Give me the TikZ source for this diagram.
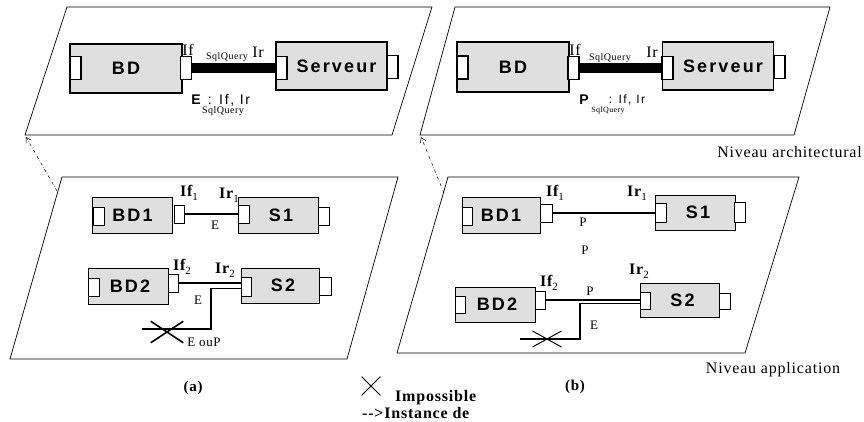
\documentclass[tikz,border=0pt]{standalone}
\usepackage{fontspec}
\setmainfont{Liberation Serif}[LetterSpace=5]
\newfontfamily\boxfont{Liberation Sans}[LetterSpace=12]
\usetikzlibrary{arrows.meta,shapes.misc}
\newcommand{\sublab}[2]{{\bfseries #1}\raisebox{-4pt}{\fontsize{11}{12}\selectfont #2}}
\tikzset{
  plane/.style={draw,line width=0.7pt},
  bigbox/.style={draw,line width=1.6pt,fill=gray!25,minimum width=112,minimum height=49,inner sep=0pt,font=\boxfont\bfseries\fontsize{18}{20}\selectfont},
  bigport/.style={draw,line width=1.4pt,fill=white,minimum width=11,minimum height=23,inner sep=0pt},
  smallbox/.style={draw,line width=0.9pt,fill=gray!25,minimum width=80,minimum height=36,inner sep=0pt,font=\boxfont\bfseries\fontsize{18}{20}\selectfont},
  smallport/.style={draw,line width=0.9pt,fill=white,minimum width=11,minimum height=18,inner sep=0pt},
  lab/.style={inner sep=0pt,font=\fontsize{16}{18}\selectfont},
  tiny/.style={inner sep=0pt,font=\fontsize{10}{12}\selectfont},
  small/.style={inner sep=0pt,font=\fontsize{13}{15}\selectfont},
  sanslab/.style={inner sep=0pt,font=\boxfont\fontsize{14}{16}\selectfont},
  impossible/.style={draw,cross out,inner sep=0pt},
  inst/.style={->,dashdotted,line width=0.5pt},
  wire/.style={line width=1.2pt}
}

\begin{document}
\begin{tikzpicture}[x=1pt,y=-1pt,>={Straight Barb[length=5pt,width=6pt]}]
  \useasboundingbox (0,0) rectangle (864,421);

  \draw[plane] (67,7) -- (432,7) -- (392,135) -- (25,135) -- cycle;
  \draw[plane] (455,7) -- (830,7) -- (794,135) -- (420,135) -- cycle;
  \draw[plane] (62,177) -- (398,177) -- (347,359) -- (10,359) -- cycle;
  \draw[plane] (448,177) -- (799,177) -- (745,353) -- (397,353) -- cycle;

  \coordinate (archA) at (26,137);
  \coordinate (archB) at (421,137);
  \coordinate (appA) at (57,191);
  \coordinate (appB) at (444,193);
  \draw[inst] (appA) -- (archA);
  \draw[inst] (appB) -- (archB);

  \node[bigbox] (BDa) at (126,68.5) {BD};
  \node[bigport] (BDa-lp) at (75.5,68) {};
  \node[bigport] (BDa-rp) at (186,68) {};
  \node[bigbox,minimum width=111,minimum height=48] (Sa) at (331.5,66) {\hspace*{10pt}Serveur};
  \node[bigport] (Sa-lp) at (281.5,68) {};
  \node[bigport] (Sa-rp) at (392.5,67) {};
  \draw[line width=10pt] (BDa-rp.east) -- (Sa-lp.west);
  \node[lab] (Ifa) at (188,50) {If};
  \node[tiny] (Qa) at (227,57) {SqlQuery};
  \node[lab] (Ira) at (258,52) {Ir};
  \node[sanslab,font=\boxfont\bfseries\fontsize{14}{16}\selectfont] (Ea) at (196,100) {E};
  \node[tiny] (Qa2) at (223,111) {SqlQuery};
  \node[sanslab] (IFa) at (229,100) {: If, Ir};

  \node[bigbox,minimum height=50] (BDb) at (513,67) {BD};
  \node[bigport] (BDb-lp) at (462.5,67.5) {};
  \node[bigport] (BDb-rp) at (573.5,68) {};
  \node[bigbox,minimum width=111,minimum height=48] (Sb) at (718,66) {\hspace*{10pt}Serveur};
  \node[bigport] (Sb-lp) at (667.5,68) {};
  \node[bigport] (Sb-rp) at (779.5,67) {};
  \draw[line width=10pt] (BDb-rp.east) -- (Sb-lp.west);
  \node[lab] (Ifb) at (575,50) {If};
  \node[tiny] (Qb) at (610,58) {SqlQuery};
  \node[lab] (Irb) at (652,52) {Ir};
  \node[sanslab,font=\boxfont\bfseries\fontsize{14}{16}\selectfont] (Pb) at (584,100) {P};
  \node[tiny,font=\fontsize{8}{10}\selectfont] (Qb2) at (608,111) {SqlQuery};
  \node[sanslab,font=\boxfont\fontsize{12}{14}\selectfont] (IFb) at (627,100) {: If, Ir};
  \node[lab,anchor=east] (archlab) at (862,152) {Niveau architectural};

  \node[smallbox] (BD1a) at (132.5,215) {BD1};
  \node[smallport] (BD1a-lp) at (99,216) {};
  \node[smallport,minimum width=10] (BD1a-rp) at (179,214) {};
  \node[smallbox] (S1a) at (278,215) {\hspace*{6pt}S1};
  \node[smallport] (S1a-lp) at (243.5,214) {};
  \node[smallport] (S1a-rp) at (323.5,216) {};
  \draw[wire] (BD1a-rp.east) -- (S1a-lp.west);
  \node[lab] (If1a) at (189,193) {\sublab{If}{1}};
  \node[lab] (Ir1a) at (229,195) {\sublab{Ir}{1}};
  \node[small] (E1a) at (215,225) {E};

  \node[smallbox] (BD2a) at (128,286) {\hspace*{4pt}BD2};
  \node[smallport] (BD2a-lp) at (94,287.5) {};
  \node[smallport,minimum width=10] (BD2a-rp) at (173,283) {};
  \node[smallbox,minimum width=78,minimum height=35] (S2a) at (280,285.5) {\hspace*{6pt}S2};
  \node[smallport,minimum width=10,minimum height=19] (S2a-lp) at (246,287) {};
  \node[smallport,minimum width=12] (S2a-rp) at (325,286) {};
  \coordinate (Ka) at (211,329);
  \coordinate (Enda) at (142,329);
  \draw[wire] (BD2a-rp.east) -- (BD2a-rp.east -| S2a-lp.west);
  \draw[wire,line width=1.5pt] ([yshift=-1.5pt]S2a-lp.west) -| (Ka) -- (Enda);
  \node[impossible,line width=1.6pt,minimum width=31,minimum height=20] (Xa) at (167,332) {};
  \node[lab] (If2a) at (182,267) {\sublab{If}{2}};
  \node[lab] (Ir2a) at (225,270) {\sublab{Ir}{2}};
  \node[small] (E2a) at (198,300) {E};
  \node[small] (EPa) at (204,342) {E ouP};
  \node[lab,font=\bfseries\fontsize{15}{17}\selectfont] (capa) at (193,388) {(a)};

  \node[smallbox,minimum width=78] (BD1b) at (501,215) {BD1};
  \node[smallport,minimum width=10] (BD1b-lp) at (467,216) {};
  \node[smallport,minimum width=12] (BD1b-rp) at (546,213) {};
  \node[smallbox,minimum height=35] (S1b) at (695,212.5) {\hspace*{6pt}S1};
  \node[smallport,minimum height=19] (S1b-lp) at (660.5,213) {};
  \node[smallport,minimum height=20] (S1b-rp) at (739.5,212) {};
  \draw[wire] (BD1b-rp.east) -- (S1b-lp.west);
  \node[lab] (If1b) at (555,193) {\sublab{If}{1}};
  \node[lab] (Ir1b) at (637,193) {\sublab{Ir}{1}};
  \node[small] (P1b) at (583,222) {P};
  \node[small] (P0b) at (585,250) {P};

  \node[smallbox,minimum height=35] (BD2b) at (495,304.5) {\hspace*{4pt}BD2};
  \node[smallport,minimum width=10,minimum height=17] (BD2b-lp) at (460,304.5) {};
  \node[smallport,minimum width=10] (BD2b-rp) at (540,300) {};
  \node[smallbox,minimum width=79,minimum height=34] (S2b) at (679.5,300) {\hspace*{6pt}S2};
  \node[smallport,minimum width=10,minimum height=17] (S2b-lp) at (645,300.5) {};
  \node[smallport,minimum height=16] (S2b-rp) at (724.5,301) {};
  \coordinate (Kb) at (580,339);
  \coordinate (Endb) at (520,339);
  \draw[wire] (BD2b-rp.east) -- (BD2b-rp.east -| S2b-lp.west);
  \draw[wire] ([yshift=-3pt]S2b-lp.west) -| (Kb) -- (Endb);
  \node[impossible,line width=1pt,minimum width=28,minimum height=15] (Xb) at (547,339) {};
  \node[lab] (If2b) at (549,283) {\sublab{If}{2}};
  \node[lab] (Ir2b) at (639,271) {\sublab{Ir}{2}};
  \node[small] (P2b) at (590,291) {P};
  \node[small] (E2b) at (594,325) {E};
  \node[lab,font=\bfseries\fontsize{15}{17}\selectfont] (capb) at (575,387) {(b)};
  \node[lab] (applab) at (773,370) {Niveau application};

  \node[impossible,line width=0.8pt,minimum width=18,minimum height=18] (legX) at (371,386) {};
  \node[lab,font=\bfseries\fontsize{16}{18}\selectfont,anchor=west] (legimp) at (395,398) {Impossible};
  \node[lab,font=\bfseries\fontsize{16}{18}\selectfont,anchor=west] (leginst) at (362,413) {-{}->Instance de};
\end{tikzpicture}
\end{document}
